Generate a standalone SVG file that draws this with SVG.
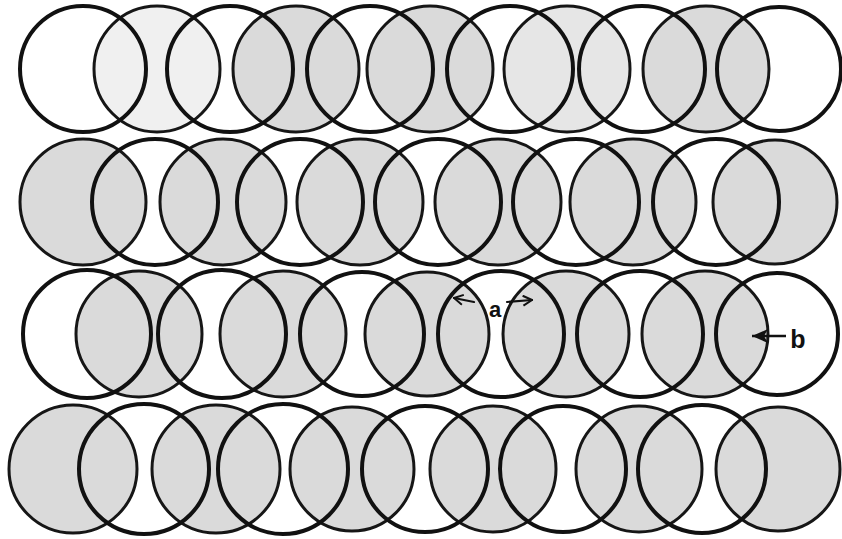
<svg xmlns="http://www.w3.org/2000/svg" width="842" height="539" viewBox="0 0 842 539">
<style>
.g{fill:#dadada;stroke:#161616;stroke-width:3}
.lt{fill:#f0f0f0}
.b{fill:none;stroke:#111;stroke-width:4}
.lbl{font-family:"Liberation Sans",Arial,sans-serif;font-weight:bold;fill:#111}
.ar{fill:none;stroke:#111;stroke-width:2.2;stroke-linecap:round;stroke-linejoin:round}
</style>
<defs>
<marker id="open" viewBox="0 0 12 12" refX="11" refY="6" markerWidth="12" markerHeight="12" markerUnits="userSpaceOnUse" orient="auto">
<path d="M2,1 L11,6 L2,11" fill="none" stroke="#111" stroke-width="2"/>
</marker>
<marker id="solid" viewBox="0 0 16 14" refX="16" refY="7" markerWidth="16" markerHeight="14" markerUnits="userSpaceOnUse" orient="auto">
<path d="M16,7 L0,0 L4,7 L0,14 Z" fill="#111"/>
</marker>
</defs>
<rect width="842" height="539" fill="#fff"/>
<!-- Row 1: bold odd, gray even -->
<g id="r1c2"><circle class="g lt" cx="157" cy="69" r="63"/></g>
<g id="r1c4"><circle class="g" cx="296" cy="69" r="63"/></g>
<g id="r1c6"><circle class="g" cx="430" cy="69" r="63"/></g>
<g id="r1c8"><circle class="g" cx="567" cy="69" r="63" style="fill:#e6e6e6"/></g>
<g id="r1c10"><circle class="g" cx="706" cy="69" r="63"/></g>
<g id="r1c1"><circle class="b" cx="83" cy="69" r="63"/></g>
<g id="r1c3"><circle class="b" cx="230" cy="69" r="63"/></g>
<g id="r1c5"><circle class="b" cx="370" cy="69" r="63"/></g>
<g id="r1c7"><circle class="b" cx="510" cy="69" r="63"/></g>
<g id="r1c9"><circle class="b" cx="642" cy="69" r="63"/></g>
<g id="r1c11"><circle class="b" cx="779" cy="69" r="62"/></g>
<!-- Row 2: bold even, gray odd -->
<g id="r2c1"><circle class="g" cx="83" cy="202" r="63"/></g>
<g id="r2c3"><circle class="g" cx="223" cy="202" r="63"/></g>
<g id="r2c5"><circle class="g" cx="360" cy="202" r="63"/></g>
<g id="r2c7"><circle class="g" cx="498" cy="202" r="63"/></g>
<g id="r2c9"><circle class="g" cx="633" cy="202" r="63"/></g>
<g id="r2c11"><circle class="g" cx="775" cy="202" r="62"/></g>
<g id="r2c2"><circle class="b" cx="155" cy="202" r="63"/></g>
<g id="r2c4"><circle class="b" cx="300" cy="202" r="63"/></g>
<g id="r2c6"><circle class="b" cx="438" cy="202" r="63"/></g>
<g id="r2c8"><circle class="b" cx="576" cy="202" r="63"/></g>
<g id="r2c10"><circle class="b" cx="716" cy="202" r="63"/></g>
<!-- Row 3: bold odd, gray even -->
<g id="r3c2"><circle class="g" cx="139" cy="334" r="63"/></g>
<g id="r3c4"><circle class="g" cx="283" cy="334" r="63"/></g>
<g id="r3c6"><circle class="g" cx="427" cy="334" r="62"/></g>
<g id="r3c8"><circle class="g" cx="566" cy="334" r="63"/></g>
<g id="r3c10"><circle class="g" cx="705" cy="334" r="63"/></g>
<g id="r3c1"><circle class="b" cx="87" cy="334" r="64"/></g>
<g id="r3c3"><circle class="b" cx="222" cy="334" r="64"/></g>
<g id="r3c5"><circle class="b" cx="362" cy="334" r="62"/></g>
<g id="r3c7"><circle class="b" cx="501" cy="334" r="63"/></g>
<g id="r3c9"><circle class="b" cx="640" cy="334" r="63"/></g>
<g id="r3c11"><circle class="b" cx="777" cy="334" r="61"/></g>
<!-- Row 4: bold even, gray odd -->
<g id="r4c1"><circle class="g" cx="73" cy="469" r="64"/></g>
<g id="r4c3"><circle class="g" cx="216" cy="469" r="64"/></g>
<g id="r4c5"><circle class="g" cx="352" cy="469" r="62"/></g>
<g id="r4c7"><circle class="g" cx="493" cy="469" r="63"/></g>
<g id="r4c9"><circle class="g" cx="639" cy="469" r="63"/></g>
<g id="r4c11"><circle class="g" cx="778" cy="469" r="62"/></g>
<g id="r4c2"><circle class="b" cx="144" cy="469" r="65"/></g>
<g id="r4c4"><circle class="b" cx="283" cy="469" r="65"/></g>
<g id="r4c6"><circle class="b" cx="425" cy="469" r="63"/></g>
<g id="r4c8"><circle class="b" cx="563" cy="469" r="63"/></g>
<g id="r4c10"><circle class="b" cx="702" cy="469" r="64"/></g>
<!-- connectors -->
<g id="connectors">
<path class="ar" d="M474,302 L454,298" marker-end="url(#open)"/>
<path class="ar" d="M507,302 L532,300" marker-end="url(#open)"/>
<path d="M786,336 L752,336" stroke="#111" stroke-width="2.5" fill="none" marker-end="url(#solid)"/>
</g>
<g id="labels">
<text class="lbl" x="495" y="317" font-size="22" text-anchor="middle">a</text>
<text class="lbl" x="798" y="348" font-size="25" text-anchor="middle">b</text>
</g>
</svg>
